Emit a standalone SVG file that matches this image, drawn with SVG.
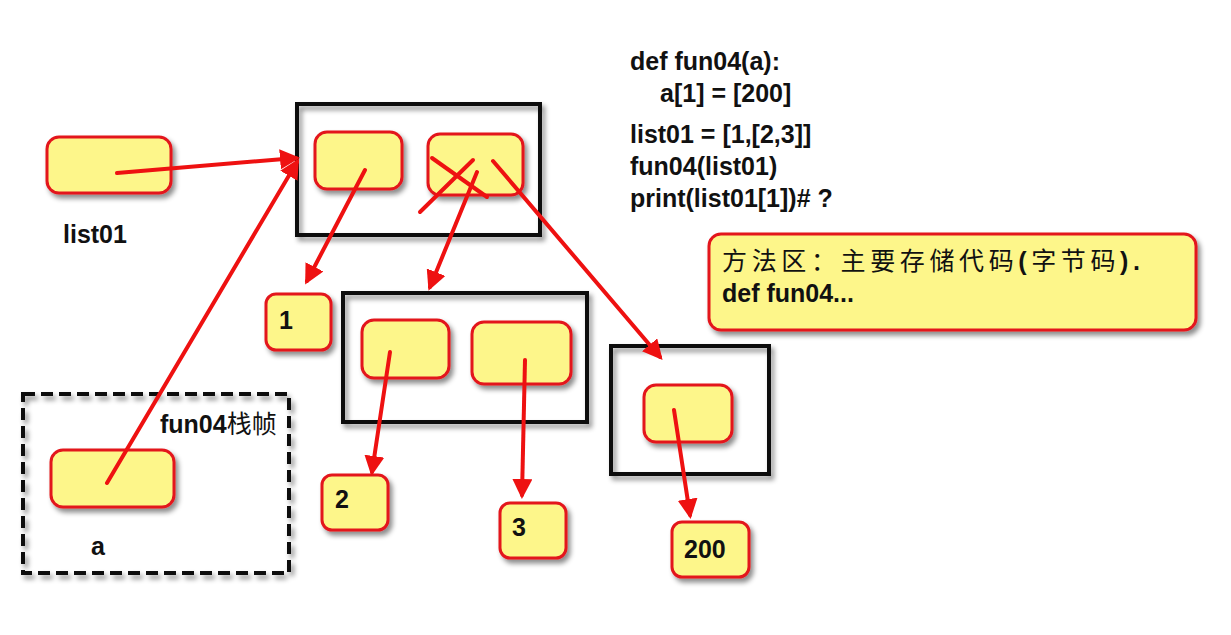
<svg xmlns="http://www.w3.org/2000/svg" width="1231" height="635" viewBox="0 0 1231 635">
<style>
.n{fill:#fdf68a;stroke:#e3141b;stroke-width:3}
.f{fill:none;stroke:#111;stroke-width:4}
.d{fill:none;stroke:#111;stroke-width:4;stroke-dasharray:12 6}
.c{stroke:#ee1111;stroke-width:4;fill:none;stroke-linecap:round}
.t{font-family:"Liberation Sans",Arial,"Noto Sans CJK SC",sans-serif;font-weight:bold;font-size:25px;fill:#111}
</style>
<defs>
<filter id="sh" x="-20%" y="-20%" width="150%" height="150%"><feDropShadow dx="3" dy="4" stdDeviation="2.5" flood-color="#000" flood-opacity="0.45"/></filter>
<marker id="ah" viewBox="0 0 10 10" refX="8" refY="5" markerWidth="5" markerHeight="5" orient="auto-start-reverse"><path d="M0,0 L10,5 L0,10 z" fill="#ee1111"/></marker>
</defs>
<g id="code">
<text class="t" x="630" y="70">def fun04(a):</text>
<text class="t" x="660" y="102">a[1] = [200]</text>
<text class="t" x="630" y="143">list01 = [1,[2,3]]</text>
<text class="t" x="630" y="175">fun04(list01)</text>
<text class="t" x="630" y="207">print(list01[1])# ?</text>
</g>
<g id="note"><rect class="n" x="709" y="234" width="487" height="96" rx="12" filter="url(#sh)"/>
<text class="t" x="722" y="270" style="font-weight:normal" textLength="418" lengthAdjust="spacing">方法区：主要存储代码<tspan style="font-weight:bold">(</tspan>字节码<tspan style="font-weight:bold">).</tspan></text>
<text class="t" x="722" y="302">def fun04...</text></g>
<g id="frame"><rect class="d" x="23" y="394" width="266" height="179" filter="url(#sh)"/>
<text class="t" x="160" y="433">fun04<tspan style="font-weight:normal">栈帧</tspan></text></g>
<g id="list01"><rect class="n" x="47" y="137" width="124" height="56" rx="12" filter="url(#sh)"/><text class="t" x="63" y="243">list01</text></g>
<g id="a"><rect class="n" x="51" y="450" width="123" height="57" rx="12" filter="url(#sh)"/><text class="t" x="91" y="555">a</text></g>
<g id="outer"><rect class="f" x="297" y="104" width="243" height="131" filter="url(#sh)"/>
<rect class="n" x="315" y="132" width="87" height="57" rx="12" filter="url(#sh)"/>
<rect class="n" x="428" y="134" width="95" height="61" rx="12" filter="url(#sh)"/></g>
<g id="inner"><rect class="f" x="343" y="293" width="244" height="129" filter="url(#sh)"/>
<rect class="n" x="362" y="320" width="87" height="58" rx="12" filter="url(#sh)"/>
<rect class="n" x="472" y="322" width="99" height="62" rx="12" filter="url(#sh)"/></g>
<g id="newlist"><rect class="f" x="611" y="346" width="158" height="128" filter="url(#sh)"/>
<rect class="n" x="644" y="385" width="88" height="57" rx="12" filter="url(#sh)"/></g>
<g id="v1"><rect class="n" x="266" y="294" width="65" height="56" rx="10" filter="url(#sh)"/><text class="t" x="279" y="329">1</text></g>
<g id="v2"><rect class="n" x="322" y="475" width="66" height="55" rx="10" filter="url(#sh)"/><text class="t" x="335" y="508">2</text></g>
<g id="v3"><rect class="n" x="500" y="503" width="66" height="55" rx="10" filter="url(#sh)"/><text class="t" x="512" y="536">3</text></g>
<g id="v200"><rect class="n" x="672" y="522" width="77" height="55" rx="10" filter="url(#sh)"/><text class="t" x="684" y="558">200</text></g>
<g id="connectors">
<line class="c" x1="117" y1="173" x2="296" y2="158" marker-end="url(#ah)"/>
<line class="c" x1="107" y1="483" x2="297" y2="162" marker-end="url(#ah)"/>
<line class="c" x1="365" y1="170" x2="307" y2="281" marker-end="url(#ah)"/>
<line class="c" x1="432" y1="158" x2="487" y2="197"/>
<line class="c" x1="473" y1="160" x2="420" y2="212"/>
<line class="c" x1="477" y1="172" x2="430" y2="287" marker-end="url(#ah)"/>
<line class="c" x1="493" y1="161" x2="660" y2="357" marker-end="url(#ah)"/>
<line class="c" x1="390" y1="352" x2="372" y2="472" marker-end="url(#ah)"/>
<line class="c" x1="525" y1="360" x2="522" y2="495" marker-end="url(#ah)"/>
<line class="c" x1="674" y1="410" x2="690" y2="515" marker-end="url(#ah)"/>
</g>
</svg>
